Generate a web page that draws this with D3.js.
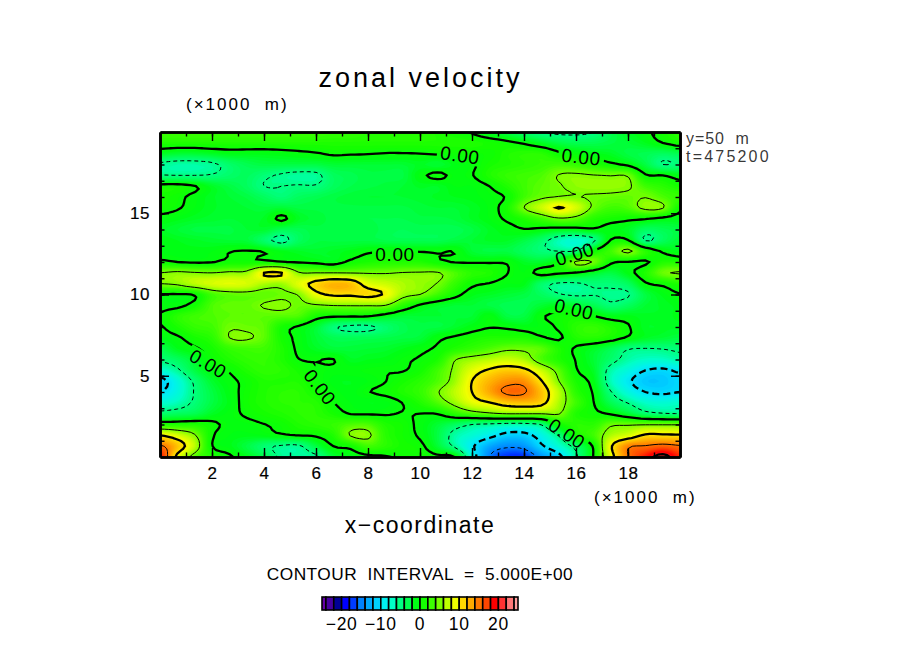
<!DOCTYPE html>
<html><head><meta charset="utf-8">
<style>html,body{margin:0;padding:0;background:#fff}svg{display:block}text{font-family:"Liberation Sans",Arial,sans-serif;fill:#000}</style>
<script src="https://cdn.jsdelivr.net/npm/d3@7"></script></head><body>
<script>
const velocityRows = [
[3,3,3,3,3,3,3,3,3,3,2.5,2.5,2,2,2,2,1.5,.8,-.2,-1.5,-2.5,-4,-5,-5.5,-5.5,-5,-3,-1.5,-.5,1,2],
[1.5,1.5,1.5,1.5,1.5,1.5,1.5,1.5,1.5,1.5,1.5,1.5,1.5,1.5,1.5,1.5,1.5,1.5,1.5,1,.5,-.3,-1.5,-2.5,-3,-3,-2.5,-2,-1.2,0,1],
[-1.5,-2,-2,-1.5,-1,-1,-1,-.8,-.5,-.2,.3,.2,.1,-.1,-.1,0,.2,.3,.4,.5,1.5,2,2,.5,-.3,-1,-1.5,-2.5,-3,-3.5,-3],
[-5.5,-6,-6,-5.5,-4,-3,-2.5,-2.5,-2.5,-2.5,-2,-2,-2,-2,-2,-1.5,-2,-1,-.3,1,1.5,2,2.5,3,2.5,1.5,.5,-.5,-2.5,-5,-4.5],
[-4.9,-5,-5,-4.8,-4,-3.5,-4.5,-5.3,-5.8,-5.6,-3.5,-3,-2.5,-2.5,-2.5,-.6,.5,-.5,-.1,1.5,2.5,3,3.5,5.1,5.4,5.1,4.9,4.7,.3,0,-1],
[.8,.8,.1,-1.5,-2.5,-3.5,-5,-5,-4.8,-4.8,-3.5,-2.8,-2.5,-2.3,-2,-1.5,-1.6,-.8,-.8,0,1.5,3,4,4.8,5.6,5.8,5.8,5.4,3,2,1],
[1,.5,-.6,-1.5,-2,-2.5,-3.5,-4.5,-3.5,-3,-2.5,-2.2,-2,-2,-2,-1.8,-1.5,-1.2,-1,-.5,.2,3,4.5,5.1,5.1,4.7,4.4,4.2,4.9,3.5,2.5],
[.7,.2,-.8,-1.5,-1.8,-2,-2.3,-2,-2.5,-2.5,-2.5,-2.5,-2.5,-2.5,-2.5,-2.2,-2,-2,-1.5,-.7,1,5,7.5,10.2,8,4.5,3,3.5,5.6,5.2,.6],
[-.5,-1,-1.5,-1.8,-2,-1.8,-1.5,.4,-1.5,-2.2,-2.5,-2.7,-2.8,-2.8,-2.8,-2.5,-2.5,-2.3,-1.5,-.8,.3,1.5,3,4.6,4,1.8,1,.5,.2,-.6,-1],
[-1.5,-2,-2.5,-2.5,-2.5,-2,-1.8,-3,-3,-2.5,-2.5,-2.5,-2.5,-3,-3.2,-3,-3,-3,-2.5,-1.5,-.8,-.1,-.5,-1,-.9,-.3,-1,-1.5,-3.5,-3,-2.5],
[-.8,-1.2,-1.5,-1.8,-2,-2.2,-4,-5.8,-3.5,-2.5,-2.5,-2.5,-2.5,-2.8,-3,-3,-3,-2.5,-2,-1.5,-1.5,-2.5,-4,-6.5,-7.5,-5.5,.1,.1,-5.2,-3.5,-2],
[-1,-1,-1,-.8,-.1,.1,-.1,-1,-1.5,-1.8,-1.5,-1,-.3,-.1,-.1,-.1,-.2,-.1,-2,-2.5,-2.5,-3.5,-4.5,-5,-4.8,.2,3,5.5,2,-.3,-1.2],
[.5,0,-.3,-.1,.6,.6,.5,.1,-.2,-.5,-1,.5,1.2,1.5,1.5,1.5,.5,-.1,-.2,-.2,-.2,-1.5,-1.8,0,5.4,4.8,.5,-.1,-.3,1.5,1.5],
[5,5.5,5.2,5,5.5,5.8,10,10.1,5.3,5,5,4.9,4.8,4.8,5.1,5.2,5.2,3.5,2,1.5,.1,-.8,.7,.3,-.2,-1.5,-2.5,-.8,1.5,4.5,5.2],
[5,5.5,7,8,8.5,8,6.5,6,8.5,11,12.5,12,8.5,7.5,6.5,5.8,4.9,2.5,.5,-.1,-.8,-1,-4,-5.3,-5.3,-4.5,-4.5,-3.5,-.3,.5,1.5],
[-.1,-.2,.2,3,4,4.2,4,4.5,5.2,9,10.5,10.5,10.8,9.6,6,5,3,.8,-1,-1.5,-2,-2.5,-3.5,-4.8,-5.3,-5.1,-5.3,-5.2,-2.5,-1,-.1],
[-.6,-.5,.8,3.5,4.2,4.2,5.2,5.6,4.5,4.7,5.1,5.2,5.2,5,2,-.3,-1.5,-2,-2,-2.5,-3,-3,-2,-1.2,-2,-3,-4.5,-3.5,-2,-1.5,-1],
[.2,2,3,3.5,4,4,4,3.8,3.5,1,.3,.2,.1,-1,-2,-2,-2,-2,-2,-.5,-2.5,-2.5,-.3,.5,.8,.1,-1,-1,-1.5,-1.5,-1],
[-.2,1.2,2.5,3,4.7,4.5,4,1,-.3,-2,-4.6,-5.5,-5.5,-4.2,-3,-2.5,-2.5,-1.8,-.8,-.1,-.3,-.8,-.7,.3,2,2.5,1.5,.2,-1.5,-1.5,-1.5],
[-1,-.3,1,2,5,5.3,4,1,-.5,-2,-3,-3.2,-3,-2.8,-2.5,-2.2,-.5,.3,1,1.5,1.5,1.5,.3,-.3,1.5,1.8,1,-.3,-1.5,-2,-2.5],
[-3,-1.2,-.3,1,2.5,3,3,1.5,-.4,-1.5,-2.2,-2.2,-2,-1.8,-1.2,-.5,.3,1.5,2.5,3.5,4.5,4.5,4,1.5,-.3,-1.5,-3,-4.8,-5.1,-4.9,-4.5],
[-4.5,-3.5,-1.8,.3,1.5,2.3,2.5,1.5,.05,-.1,.05,-1.5,-1.2,-1,-.3,.2,1.2,4.8,6,6.8,7.5,6.5,3.5,1.5,-.1,-2,-4,-6,-7,-7,-6],
[-7.5,-5.5,-2.5,-.7,.2,1.5,2.3,2,1,-.1,-.5,-.5,-.3,-.1,-.1,.8,3,5.5,8.5,10.4,11.5,10.8,7.5,4,.2,-1.5,-6,-8,-10,-10.5,-9.5],
[-11,-8,-4.5,-1.8,-.5,.5,1.5,1.5,1.5,.2,-1,-1.2,-.8,-.05,1,2,3.5,6,10,12.5,14,14,10.2,5.1,1.2,-.8,-6.5,-9.5,-11.5,-11.5,-10.5],
[-10,-8,-4.8,-2.5,-.8,.6,1.5,2,2,.8,-.5,-1,-.1,.5,1.5,2.5,4.8,7,10,13,15.5,15.3,12,7,2,-.2,-4.8,-8,-10,-10.5,-10],
[-7.5,-6.5,-4.5,-2.5,-1,.7,1.5,2,2,1.8,.05,-.8,-1.2,-1,.05,1.5,3.5,5.8,8.5,9.8,11.5,12,11,6.5,3,.1,-3,-5.1,-7,-7.5,-7],
[-4,-3.5,-3,-1.5,-.6,.3,1,1.5,2,2,1,-.1,-.2,-.2,.1,0,.1,2,3.5,4.5,5.1,5.1,5.1,5.2,1.5,.6,-.3,-2,-4,-4.8,-5],
[1.5,1.5,1.5,.5,-.5,-.5,-.05,.5,1.5,2,2.5,3.5,3.5,1.5,.8,-.5,-2,-3.5,-5,-5.5,-6,-6,-4.8,.4,2,2,4.5,4.7,4.8,4.8,4.8],
[10,8,5.3,.3,-.8,-1,-.8,-.3,.05,.3,1.5,5.2,5.5,2,.8,-.3,-2.5,-6,-7.5,-9,-11,-11,-8.5,-4.8,.8,3,6.5,8,10.5,10.5,10.3],
[15.5,12,7,.1,-1,-2.5,-4.3,-5.3,-5.4,-2.5,0,.7,3,2,1,.5,-2,-5.5,-9.5,-13,-14.5,-14,-10.5,-7.5,-4,.3,9.5,14.5,15.2,16,15.3],
[19,9,3.8,1.5,.3,-1.2,-3,-5.5,-5.8,-5.5,-2,-1,-.5,-.2,.4,.8,.4,-.05,-8,-15,-17.5,-17.5,-14,-11,-5.5,.05,8.5,15,18.5,21,18]
];
const colorValues = [-25,-23,-21,-19,-17,-15,-13,-11,-9,-7,-5,-3,-1,1,3,5,7,9,11,13,15,17,19,21,23,25];
const colorHex = ["#6e00aa","#4600a0","#000096","#0000ff","#003cff","#0082ff","#00aaff","#00d2ff","#00f0f0","#00ffc8","#00ff82","#00ff50","#00ff14","#14ff00","#3cff00","#78ff00","#beff00","#f0ff00","#ffd700","#ffaa00","#ff7800","#ff4600","#ff0000","#ff3232","#ff7878","#ffaaaa"];
const contourLevels = [-20,-15,-10,-5,0,5,10,15,20];
const thickLevels = [-20,-10,0,10,20];
const xMajorTicks = [2,4,6,8,10,12,14,16,18];
const yMajorTicks = [5,10,15];
const minorTicksX = d3.range(1,20);
const minorTicksY = d3.range(1,20);
const zeroLabelX = [11.54,16.2,9.04,15.95,15.92,1.85,6.15,15.65];
const zeroLabelY = [18.58,18.47,12.46,12.5,9.1,5.75,4.3,1.45];
const zeroLabelAngle = [8,6,0,-17,13,30,52,33];
const legendTicks = [-20,-10,0,10,20];

const W=904,H=654, pL=160,pR=680,pT=132,pB=457;
const svg=d3.select("body").append("svg").attr("width",W).attr("height",H).attr("viewBox",`0 0 ${W} ${H}`);
const x=d3.scaleLinear().domain([0,20]).range([pL,pR]);
const y=d3.scaleLinear().domain([0,20]).range([pB,pT]);
const color=d3.scaleLinear().domain(colorValues).range(colorHex).clamp(true);

// smooth resampling of the hand-read grid for drawing
const nr=velocityRows.length,nc=velocityRows[0].length,f=4;
const NX=(nc-1)*f+1,NY=(nr-1)*f+1;
const cr=(a,b,c,d,t)=>.5*(2*b+(c-a)*t+(2*a-5*b+4*c-d)*t*t+(3*b-a-3*c+d)*t*t*t);
const at=(j,i)=>velocityRows[Math.max(0,Math.min(nr-1,j))][Math.max(0,Math.min(nc-1,i))];
const vals=new Float64Array(NX*NY);
for(let J=0;J<NY;J++){const j=Math.floor(J/f),v=J/f-j;
 for(let I=0;I<NX;I++){const i=Math.floor(I/f),u=I/f-i;
  const r4=[-1,0,1,2].map(dj=>cr(at(j+dj,i-1),at(j+dj,i),at(j+dj,i+1),at(j+dj,i+2),u));
  vals[I+J*NX]=cr(r4[0],r4[1],r4[2],r4[3],v);
 }}
const gx=p=>x((p-.5)/(NX-1)*20), gy=p=>y(20-(p-.5)/(NY-1)*20);
const path=d3.geoPath(d3.geoTransform({point(a,b){this.stream.point(gx(a),gy(b));}}));
const contourGen=d3.contours().size([NX,NY]).smooth(true);

const defs=svg.append("defs");
defs.append("clipPath").attr("id","plot").append("rect").attr("x",pL).attr("y",pT).attr("width",pR-pL).attr("height",pB-pT);
const gapMask=defs.append("mask").attr("id","gap").attr("maskUnits","userSpaceOnUse").attr("x",0).attr("y",0).attr("width",W).attr("height",H);
gapMask.append("rect").attr("width",W).attr("height",H).attr("fill","#fff");
zeroLabelX.forEach((d,i)=>{gapMask.append("rect").attr("x",-23).attr("y",-9).attr("width",46).attr("height",18).attr("fill","#000")
  .attr("transform",`translate(${x(d)},${y(zeroLabelY[i])}) rotate(${zeroLabelAngle[i]})`);});

const g=svg.append("g").attr("clip-path","url(#plot)");
const fills=d3.range(-26,26.01,.4);
g.append("rect").attr("x",pL).attr("y",pT).attr("width",pR-pL).attr("height",pB-pT).attr("fill",color(-26));
g.selectAll("path.fill").data(contourGen.thresholds(fills)(vals)).join("path").attr("class","fill").attr("d",path).attr("fill",d=>color(d.value+.2));
const lines=g.append("g").attr("fill","none").attr("stroke","#000");
lines.selectAll("path").data(contourGen.thresholds(contourLevels)(vals)).join("path").attr("d",path)
 .attr("stroke-width",d=>thickLevels.includes(d.value)?2.3:1)
 .attr("stroke-dasharray",d=>d.value<0?(thickLevels.includes(d.value)?"7,4":"4,3"):null)
 .attr("mask",d=>d.value===0?"url(#gap)":null);

// contour labels
svg.append("g").selectAll("text").data(zeroLabelX).join("text").text("0.00")
 .attr("transform",(d,i)=>`translate(${x(d)},${y(zeroLabelY[i])}) rotate(${zeroLabelAngle[i]})`)
 .attr("text-anchor","middle").attr("dy","0.36em").attr("font-size",19).attr("letter-spacing",.6);

// frame and axes
function style(a){a.select(".domain").attr("stroke","#000").attr("stroke-width",2.6);a.selectAll("line").attr("stroke","#000").attr("stroke-width",1.4);a.selectAll("text").attr("font-size",17).attr("fill","#000").attr("font-family","Liberation Sans").attr("letter-spacing",.6).attr("stroke","#000").attr("stroke-width",.2);}
const axB=svg.append("g").attr("transform",`translate(0,${pB})`);
axB.call(d3.axisBottom(x).tickValues(xMajorTicks).tickSize(-9).tickPadding(8).tickSizeOuter(0).tickFormat(d3.format("d"))).call(style);
axB.selectAll(".tick text").attr("dy","0.82em");
const axT=svg.append("g").attr("transform",`translate(0,${pT})`);
axT.call(d3.axisTop(x).tickValues(xMajorTicks).tickSize(-9).tickSizeOuter(0).tickFormat("")).call(style);
const axL=svg.append("g").attr("transform",`translate(${pL},0)`);
axL.call(d3.axisLeft(y).tickValues(yMajorTicks).tickSize(-9).tickPadding(10).tickSizeOuter(0).tickFormat(d3.format("d"))).call(style);
const axR=svg.append("g").attr("transform",`translate(${pR},0)`);
axR.call(d3.axisRight(y).tickValues(yMajorTicks).tickSize(-9).tickSizeOuter(0).tickFormat("")).call(style);
[[d3.axisBottom(x),pB,0,minorTicksX],[d3.axisTop(x),pT,0,minorTicksX],[d3.axisLeft(y),0,pL,minorTicksY],[d3.axisRight(y),0,pR,minorTicksY]].forEach(([ax,ty,tx,tv])=>{
 svg.append("g").attr("transform",`translate(${tx},${ty})`).call(ax.tickValues(tv).tickSize(-4.5).tickSizeOuter(0).tickFormat("")).call(style);
});

// texts
const txt=(s,xp,yp,size,anchor,ls,op)=>svg.append("text").text(s).attr("x",xp).attr("y",yp).attr("font-size",size).attr("text-anchor",anchor||"start").attr("letter-spacing",ls||0).attr("fill-opacity",op||1).style("white-space","pre");
txt("zonal velocity",420.5,87,27,"middle",3);
txt("(×1000  m)",186,110,17,"start",2);
txt("(×1000  m)",594,503,17,"start",2);
txt("x−coordinate",420,533,23,"middle",1.5);
txt("CONTOUR  INTERVAL  =  5.000E+00",420,580,17.3,"middle",.45);
txt("y=50  m",686,144,16,"start",.9,.8);
txt("t=475200",686,162,16,"start",2.2,.8);

// colour bar
const bar=d3.scaleLinear().domain([-25,25]).range([322,518]);
const barEdges=[-25].concat(d3.range(-24,25,2),[25]);
svg.append("g").selectAll("rect").data(d3.pairs(barEdges)).join("rect")
 .attr("x",d=>bar(d[0])).attr("width",d=>bar(d[1])-bar(d[0])).attr("y",597).attr("height",13)
 .attr("fill",d=>color((d[0]+d[1])/2)).attr("stroke","#000").attr("stroke-width",1.6);
svg.append("g").selectAll("text").data(legendTicks).join("text").text(d=>d<0?"−"+(-d):d)
 .attr("x",d=>bar(d)).attr("y",630).attr("text-anchor","middle").attr("font-size",17.5).attr("letter-spacing",.6);
</script></body></html>
